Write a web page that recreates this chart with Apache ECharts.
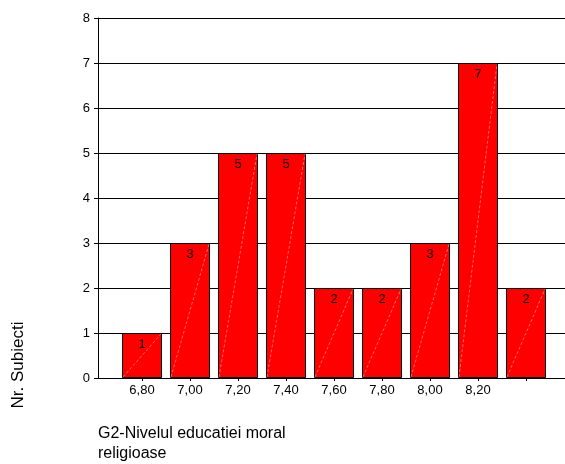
<!DOCTYPE html>
<html><head><meta charset="utf-8">
<script src="https://cdn.jsdelivr.net/npm/echarts@6/dist/echarts.min.js"></script>
<style>html,body{margin:0;padding:0;background:#fff}#c{width:565px;height:464px}</style>
</head><body><div id="c"></div>
<script>
const categories = ["6,80","7,00","7,20","7,40","7,60","7,80","8,00","8,20",""];
const counts = [1,3,5,5,2,2,3,7,2];
const yMax = 8;
const yTitle = "Nr. Subiecti";
const xTitle = "G2-Nivelul educatiei moral\nreligioase";

const font = '"Liberation Sans", Arial, sans-serif';
const chart = echarts.init(document.getElementById('c'), null, {renderer:'canvas'});
chart.setOption({
  animation:false,
  textStyle:{fontFamily:font},
  grid:[
    {left:98, right:0, top:18, bottom:86},
    {left:118, width:432, top:18, bottom:86}
  ],
  xAxis:[
    {type:'value', gridIndex:0, min:0, max:1, axisLine:{show:true, lineStyle:{color:'#000', width:1}},
     axisTick:{show:false}, axisLabel:{show:false}, splitLine:{show:false}},
    {type:'category', gridIndex:1, data:categories, axisLine:{show:false},
     axisTick:{show:true, alignWithLabel:true, length:3, lineStyle:{color:'#000'}},
     axisLabel:{color:'#000', fontSize:13, margin:6, fontFamily:font}}
  ],
  yAxis:[
    {type:'value', gridIndex:0, min:0, max:yMax, interval:1,
     axisLine:{show:true, lineStyle:{color:'#000', width:1}},
     axisTick:{show:true, length:4, lineStyle:{color:'#000'}},
     axisLabel:{color:'#000', fontSize:13, margin:8, fontFamily:font},
     splitLine:{show:true, lineStyle:{color:'#000', width:1}}},
    {type:'value', gridIndex:1, min:0, max:yMax, show:false, splitLine:{show:false}}
  ],
  series:[
    {type:'bar', xAxisIndex:1, yAxisIndex:1, data:counts, barWidth:40,
     itemStyle:{color:'#ff0000', borderColor:'#000', borderWidth:1},
     label:{show:true, position:'insideTop', distance:5, color:'#000', fontSize:13, fontFamily:font}},
    {type:'custom', xAxisIndex:1, yAxisIndex:1, data:counts.map((v,i)=>[i,v]), z:5,
     renderItem:function(params, api){
       const p0 = api.coord([api.value(0), 0]);
       const p1 = api.coord([api.value(0), api.value(1)]);
       return {type:'line', shape:{x1:p0[0]-19, y1:p0[1]-1, x2:p1[0]+19, y2:p1[1]+1},
         style:{stroke:'rgba(255,190,190,0.9)', lineWidth:0.6, lineDash:[3,2]}, silent:true};
     }}
  ],
  graphic:[
    {type:'text', x:18, y:365, rotation:Math.PI/2, style:{text:yTitle, fill:'#000', font:'17px '+font, textAlign:'center', textVerticalAlign:'middle'}},
    {type:'text', x:98, y:424, style:{text:xTitle, fill:'#000', font:'16px '+font, lineHeight:20}}
  ]
});
</script></body></html>
